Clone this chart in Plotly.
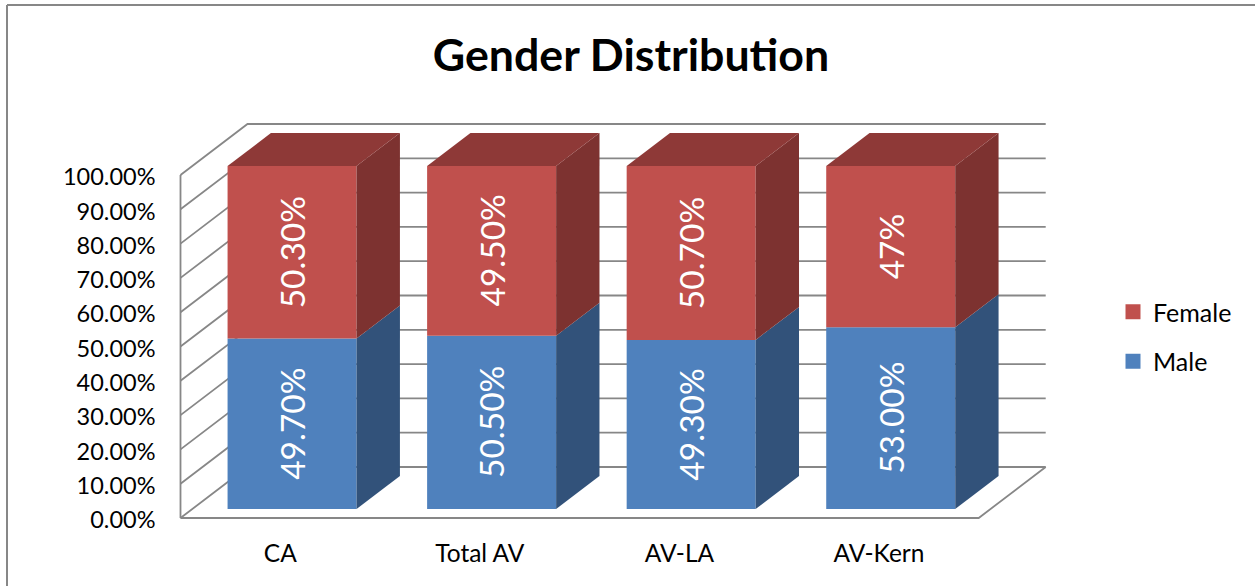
import plotly.graph_objects as go

categories = ["CA", "Total AV", "AV-LA", "AV-Kern"]
male_values = [49.7, 50.5, 49.3, 53.0]
female_values = [50.3, 49.5, 50.7, 47.0]
male_labels = ["49.70%", "50.50%", "49.30%", "53.00%"]
female_labels = ["50.30%", "49.50%", "50.70%", "47%"]
y_ticks = [0, 10, 20, 30, 40, 50, 60, 70, 80, 90, 100]
y_tick_labels = ["0.00%", "10.00%", "20.00%", "30.00%", "40.00%", "50.00%",
                 "60.00%", "70.00%", "80.00%", "90.00%", "100.00%"]

W, H = 1255, 586
PX_X0, PX_SLOT = 180.5, 199.55     # pixel of category 0 edge, pixels per category
PX_Y0, PX_PCT = 518.0, 3.43        # pixel of 0 %, pixels per percent
DX = 67 / PX_SLOT                  # full depth of the floor in x units
DY = 51 / PX_PCT                   # full depth of the floor in y units
F0, F1 = 0.176, 0.823              # bar front and back, as a share of depth
BAR_W = 129 / PX_SLOT

xrange_ = [-PX_X0 / PX_SLOT, (W - PX_X0) / PX_SLOT]
yrange_ = [(PX_Y0 - H) / PX_PCT, PX_Y0 / PX_PCT]

WALL = "#878787"
FONT = "Lato, Carlito, Calibri, sans-serif"
n = len(categories)
centers = [i + 0.5 for i in range(n)]
bar_x = [c + F0 * DX for c in centers]
base = F0 * DY

fig = go.Figure()

# walls and floor (base axes, below the bars)
gx, gy = [], []
for t in y_ticks:
    gx += [0, DX, n + DX, None]
    gy += [t, t + DY, t + DY, None]
gx += [0, 0, None, 0, n, n + DX]
gy += [0, 100, None, 0, 0, DY]
fig.add_trace(go.Scatter(x=gx, y=gy, mode="lines", line=dict(color=WALL, width=1.8),
                         showlegend=False, hoverinfo="skip"))

# front faces
male_base = [base] * n
female_base = [base + m for m in male_values]
fig.add_trace(go.Bar(x=bar_x, y=male_values, base=male_base, width=BAR_W, xaxis="x2", yaxis="y2",
                     marker=dict(color="#4F81BD", line=dict(width=0)), showlegend=False, name="Male"))
fig.add_trace(go.Bar(x=bar_x, y=female_values, base=female_base, width=BAR_W, xaxis="x2", yaxis="y2",
                     marker=dict(color="#C0504D", line=dict(width=0)), showlegend=False, name="Female"))


def side_face(xc, y0, y1, color):
    xr = xc + BAR_W / 2
    ox = (F1 - F0) * DX
    oy = (F1 - F0) * DY
    fig.add_trace(go.Scatter(x=[xr, xr + ox, xr + ox, xr, xr], y=[y0, y0 + oy, y1 + oy, y1, y0],
                             mode="lines", fill="toself", fillcolor=color, line=dict(width=0),
                             xaxis="x2", yaxis="y2", showlegend=False, hoverinfo="skip"))


def top_face(xc, y, color):
    xl, xr = xc - BAR_W / 2, xc + BAR_W / 2
    ox = (F1 - F0) * DX
    oy = (F1 - F0) * DY
    fig.add_trace(go.Scatter(x=[xl, xr, xr + ox, xl + ox, xl], y=[y, y, y + oy, y + oy, y],
                             mode="lines", fill="toself", fillcolor=color, line=dict(width=0),
                             xaxis="x2", yaxis="y2", showlegend=False, hoverinfo="skip"))


for i in range(n):
    b, m, f = male_base[i], male_values[i], female_values[i]
    side_face(bar_x[i], b, b + m, "#32527A")
    side_face(bar_x[i], b + m, b + m + f, "#7D3230")
    top_face(bar_x[i], b + m + f, "#8E3937")

# legend keys
fig.add_trace(go.Scatter(x=[None], y=[None], mode="markers", name="Female", legendgroup="f",
                         marker=dict(symbol="square", size=15, color="#C0504D"), xaxis="x2", yaxis="y2"))
fig.add_trace(go.Scatter(x=[None], y=[None], mode="markers", name="Male", legendgroup="m",
                         marker=dict(symbol="square", size=15, color="#4F81BD"), xaxis="x2", yaxis="y2"))

LABEL_FONT = dict(family=FONT, size=33.5, color="white")
annotations = []
for i in range(n):
    annotations.append(dict(x=bar_x[i], y=male_base[i] + male_values[i] / 2, text=male_labels[i],
                            xref="x2", yref="y2", showarrow=False, textangle=-90, font=LABEL_FONT))
    annotations.append(dict(x=bar_x[i], y=female_base[i] + female_values[i] / 2, text=female_labels[i],
                            xref="x2", yref="y2", showarrow=False, textangle=-90, font=LABEL_FONT))

fig.update_layout(
    width=W, height=H, margin=dict(l=0, r=0, t=0, b=0),
    paper_bgcolor="white", plot_bgcolor="rgba(0,0,0,0)",
    barmode="overlay",
    font=dict(family=FONT, color="black"),
    title=dict(text="<b>Gender Distribution</b>", x=631 / W, xanchor="center",
               y=1 - 55 / H, yanchor="middle", font=dict(family=FONT, size=44.7, color="black")),
    xaxis=dict(range=xrange_, domain=[0, 1], anchor="free", position=(H - PX_Y0) / H,
               tickmode="array", tickvals=centers, ticktext=categories, ticks="",
               tickfont=dict(family=FONT, size=24.5), ticklabelstandoff=18,
               showgrid=False, zeroline=False, showline=False),
    yaxis=dict(range=yrange_, domain=[0, 1], anchor="free", position=PX_X0 / W,
               tickmode="array", tickvals=y_ticks, ticktext=y_tick_labels, ticks="",
               tickfont=dict(family=FONT, size=23.5), ticklabelstandoff=25, ticklabelshift=2,
               showgrid=False, zeroline=False, showline=False),
    xaxis2=dict(range=xrange_, overlaying="x", visible=False),
    yaxis2=dict(range=yrange_, overlaying="y", visible=False),
    legend=dict(x=1113 / W, y=1 - 289 / H, xanchor="left", yanchor="top", tracegroupgap=14,
                font=dict(family=FONT, size=25, color="black"), bgcolor="rgba(0,0,0,0)"),
    annotations=annotations,
    shapes=[
        dict(type="line", xref="paper", yref="paper", x0=7 / W, x1=7 / W, y0=0, y1=1 - 5 / H,
             line=dict(color=WALL, width=2)),
        dict(type="line", xref="paper", yref="paper", x0=7 / W, x1=1, y0=1 - 5 / H, y1=1 - 5 / H,
             line=dict(color=WALL, width=2)),
    ],
)

fig.write_html("out.html", config={"displayModeBar": False},
               post_script="document.body.style.margin='0';")
